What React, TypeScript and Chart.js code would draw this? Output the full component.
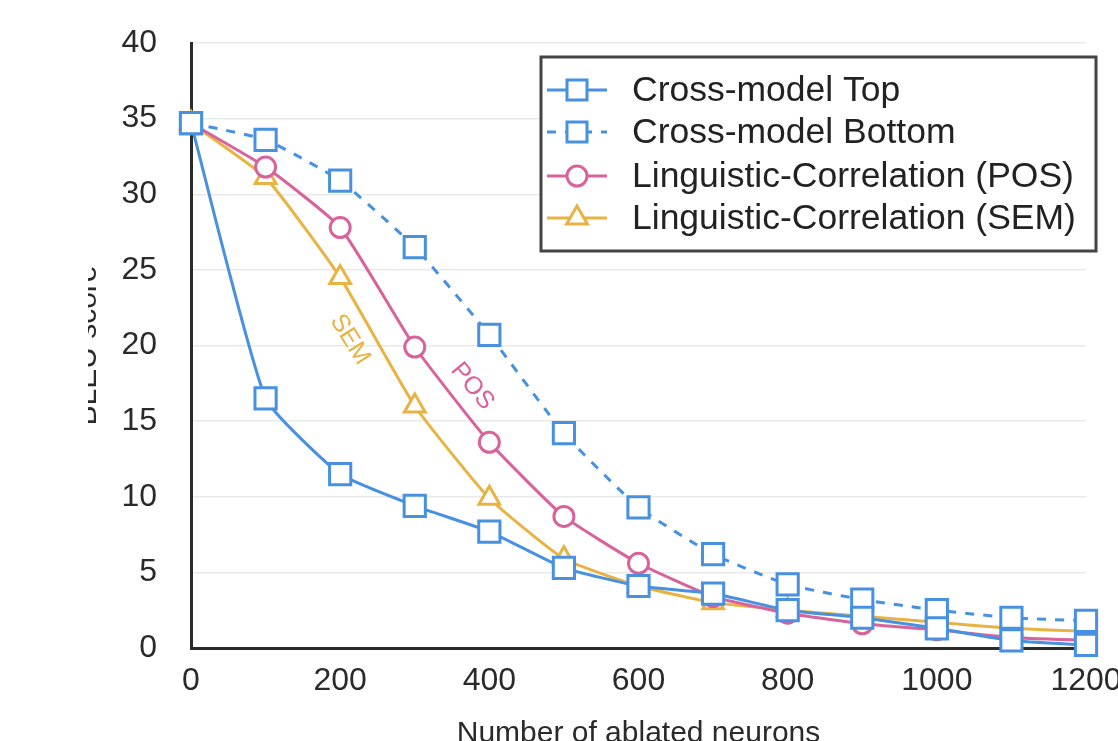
import { useEffect, useRef } from "react";
import { Chart, registerables } from "chart.js";

Chart.register(...registerables);

const xValues = [0, 100, 200, 300, 400, 500, 600, 700, 800, 900, 1000, 1100, 1200];
const crossTop = [34.7, 16.5, 11.5, 9.4, 7.7, 5.3, 4.1, 3.6, 2.5, 2.0, 1.3, 0.5, 0.2];
const crossBottom = [34.7, 33.6, 30.9, 26.5, 20.7, 14.2, 9.3, 6.2, 4.2, 3.2, 2.5, 2.0, 1.8];
const posCorr = [34.7, 31.8, 27.8, 19.9, 13.6, 8.7, 5.6, 3.4, 2.3, 1.6, 1.2, 0.7, 0.5];
const semCorr = [34.7, 31.1, 24.5, 16.0, 9.9, 5.9, 4.1, 3.0, 2.5, 2.1, 1.7, 1.3, 1.1];
const seriesLabels = [
  "Cross-model Top",
  "Cross-model Bottom",
  "Linguistic-Correlation (POS)",
  "Linguistic-Correlation (SEM)",
];
const xTitle = "Number of ablated neurons";
const yTitle = "BLEU score";
const curveNotes = [
  { text: "SEM", x: 213, y: 20.4, angle: 58, color: "#e7b443" },
  { text: "POS", x: 377, y: 17.3, angle: 50, color: "#d8629b" },
];

const BLUE = "#4791e0";
const PINK = "#d8629b";
const YELLOW = "#e7b443";
const FONT = "'Liberation Sans', Arial, Helvetica, sans-serif";
const OFFSET_X = 88;

function drawMarker(ctx: CanvasRenderingContext2D, style: string, x: number, y: number, color: string) {
  ctx.save();
  ctx.setLineDash([]);
  ctx.lineWidth = 3;
  ctx.strokeStyle = color;
  ctx.fillStyle = "#fff";
  ctx.beginPath();
  if (style === "rect") {
    ctx.rect(x - 10, y - 10, 20, 20);
  } else if (style === "circle") {
    ctx.arc(x, y, 10, 0, Math.PI * 2);
  } else {
    const r = 12;
    ctx.moveTo(x, y - r);
    ctx.lineTo(x + r * 0.866, y + r * 0.5);
    ctx.lineTo(x - r * 0.866, y + r * 0.5);
    ctx.closePath();
  }
  ctx.fill();
  ctx.stroke();
  ctx.restore();
}

const boxLegend = {
  id: "boxLegend",
  afterDraw(chart: any) {
    const ctx: CanvasRenderingContext2D = chart.ctx;
    const L = 541 - OFFSET_X, T = 57, R = 1096 - OFFSET_X, B = 251;
    ctx.save();
    ctx.fillStyle = "#fff";
    ctx.fillRect(L, T, R - L, B - T);
    ctx.strokeStyle = "#444";
    ctx.lineWidth = 3;
    ctx.strokeRect(L, T, R - L, B - T);
    const rowY = [90, 132, 176, 218];
    chart.data.datasets.forEach((ds: any, i: number) => {
      const y = rowY[i];
      ctx.save();
      ctx.strokeStyle = ds.borderColor;
      ctx.lineWidth = 3;
      ctx.setLineDash(ds.borderDash || []);
      ctx.beginPath();
      ctx.moveTo(547 - OFFSET_X, y);
      ctx.lineTo(607 - OFFSET_X, y);
      ctx.stroke();
      ctx.restore();
      drawMarker(ctx, ds.pointStyle, 577 - OFFSET_X, y, ds.borderColor);
      ctx.fillStyle = "#222";
      ctx.font = `35.5px ${FONT}`;
      ctx.textBaseline = "middle";
      ctx.textAlign = "left";
      ctx.fillText(ds.label, 632 - OFFSET_X, y + 1);
    });
    ctx.restore();
  },
};

const notesPlugin = {
  id: "curveNotes",
  afterDatasetsDraw(chart: any) {
    const ctx: CanvasRenderingContext2D = chart.ctx;
    const xs = chart.scales.x;
    const ys = chart.scales.y;
    curveNotes.forEach((n) => {
      ctx.save();
      ctx.translate(xs.getPixelForValue(n.x), ys.getPixelForValue(n.y));
      ctx.rotate((n.angle * Math.PI) / 180);
      ctx.font = `25px ${FONT}`;
      ctx.fillStyle = n.color;
      ctx.textAlign = "center";
      ctx.textBaseline = "middle";
      ctx.fillText(n.text, 0, 0);
      ctx.restore();
    });
  },
};

export default function App() {
  const ref = useRef<HTMLCanvasElement | null>(null);

  useEffect(() => {
    if (!ref.current) return;
    const mk = (vals: number[]) => xValues.map((x, i) => ({ x, y: vals[i] }));
    const chart = new Chart(ref.current, {
      type: "line",
      data: {
        datasets: [
          {
            label: seriesLabels[0],
            data: mk(crossTop),
            borderColor: BLUE,
            pointStyle: "rect",
            pointRadius: 15,
          },
          {
            label: seriesLabels[1],
            data: mk(crossBottom),
            borderColor: BLUE,
            borderDash: [9, 9],
            pointStyle: "rect",
            pointRadius: 15,
          },
          {
            label: seriesLabels[2],
            data: mk(posCorr),
            borderColor: PINK,
            pointStyle: "circle",
            pointRadius: 10,
          },
          {
            label: seriesLabels[3],
            data: mk(semCorr),
            borderColor: YELLOW,
            pointStyle: "triangle",
            pointRadius: 12,
          },
        ].map((d) => ({
          ...d,
          borderWidth: 3,
          pointBorderWidth: 3,
          pointBackgroundColor: "#fff",
          pointBorderColor: d.borderColor,
          backgroundColor: "#fff",
          tension: 0.15,
          fill: false,
          clip: false,
        })) as any,
      },
      options: {
        responsive: false,
        animation: false,
        devicePixelRatio: 1,
        layout: { padding: { left: 0, top: 43, right: 32, bottom: 0 } },
        plugins: {
          legend: { display: false },
          tooltip: { enabled: false },
        },
        scales: {
          x: {
            type: "linear",
            min: 0,
            max: 1200,
            ticks: {
              stepSize: 200,
              color: "#2a2a2a",
              font: { family: FONT, size: 32 },
              padding: 14,
              maxRotation: 0,
              callback: (v: any) => String(v),
            },
            grid: { display: false, drawTicks: false },
            border: { display: true, color: "#2b2b2b", width: 3 },
            title: {
              display: true,
              text: xTitle,
              color: "#2a2a2a",
              font: { family: FONT, size: 30 },
              padding: { top: 0, bottom: -11 },
            },
            afterFit(scale: any) {
              scale.height = 93;
              scale.paddingLeft = 0;
              scale.paddingRight = 0;
            },
          },
          y: {
            min: 0,
            max: 40,
            ticks: {
              stepSize: 5,
              color: "#2a2a2a",
              font: { family: FONT, size: 32 },
              padding: 34,
              callback: (v: any) => String(v),
            },
            grid: { color: "#e9e9e9", lineWidth: 1.5, drawTicks: false },
            border: { display: true, color: "#2b2b2b", width: 3 },
            title: {
              display: true,
              text: yTitle,
              color: "#2a2a2a",
              font: { family: FONT, size: 30 },
              padding: { top: -18, bottom: 0 },
            },
            afterFit(scale: any) {
              scale.width = 103;
              scale.paddingTop = 0;
              scale.paddingBottom = 0;
            },
          },
        },
      },
      plugins: [notesPlugin, boxLegend],
    });
    return () => chart.destroy();
  }, []);

  return (
    <div style={{ position: "absolute", left: OFFSET_X, top: 0, width: 1118 - OFFSET_X, height: 741, overflow: "hidden", background: "#fff" }}>
      <canvas ref={ref} width={1118 - OFFSET_X} height={741} style={{ display: "block" }} />
    </div>
  );
}
